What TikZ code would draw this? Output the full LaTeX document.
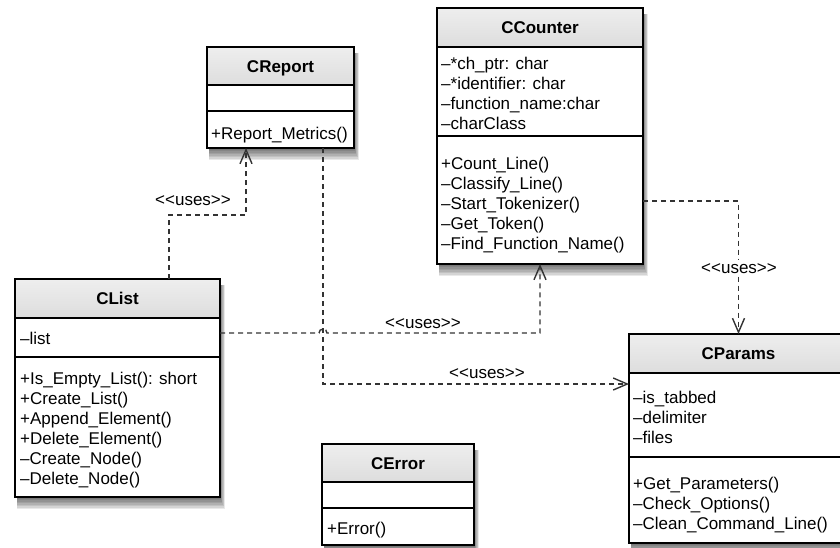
\documentclass[tikz,border=0pt]{standalone}
\usepackage{fontspec}
\setmainfont{Liberation Sans}
\usetikzlibrary{arrows.meta,calc}
\definecolor{linec}{HTML}{333333}
\definecolor{hdrtop}{HTML}{EEEEEE}
\definecolor{hdrbot}{HTML}{DDDDDD}
\tikzset{
  classbox/.style={draw=black, line width=1.3pt, fill=white, anchor=north west, inner sep=0pt, outer sep=0pt},
  header/.style={draw=black, line width=1.3pt, top color=hdrtop, bottom color=hdrbot, anchor=north west,
    inner sep=0pt, outer sep=0pt, font=\fontsize{17}{20}\selectfont\bfseries, text height=12.2pt, text depth=0pt},
  sep/.style={draw=black, line width=1.3pt},
  members/.style={anchor=north west, inner sep=0pt, align=left, font=\fontsize{17}{20}\selectfont},
  uses/.style={draw=linec, line width=1.4pt, dash pattern=on 5pt off 4pt, -{Straight Barb[length=14pt,width=12pt]}},
  lbl/.style={inner sep=1pt, font=\fontsize{17}{20}\selectfont, text height=12.2pt, text depth=0pt},
}
% #1 name, #2 xl, #3 yt, #4 xr, #5 yb, #6 header bottom, #7 title
\newcommand\umlclass[7]{%
  \foreach \d in {1,...,8}{\fill[black,opacity=0.085] (#2+2,#3+6) rectangle (#4+0.6*\d,#5+1.5*\d);}
  \node[classbox, minimum width={(#4-#2)*1pt}, minimum height={(#5-#3)*1pt}] (#1) at (#2,#3) {};
  \node[header, minimum width={(#4-#2)*1pt}, minimum height={(#6-#3)*1pt}] (#1-h) at (#2,#3) {#7};
}
\newcommand\usestext{<\kern0pt<uses>\kern0pt>}
\begin{document}
\begin{tikzpicture}[x=1pt,y=-1pt]
\clip (0,0) rectangle (840,547);
\fill[white] (0,0) rectangle (840,547);

% CReport
\umlclass{creport}{207}{47}{354}{148}{85}{CReport}
\draw[sep] (creport.west |- 0,111) -- (creport.east |- 0,111);
\node[members] (creport-m) at (211,125) {\strut+Report\_Metrics()};

% CCounter
\umlclass{ccounter}{437}{8}{643}{264}{47}{CCounter}
\draw[sep] (ccounter.west |- 0,136) -- (ccounter.east |- 0,136);
\node[members] (ccounter-a) at (441,55) {\strut\textendash*ch\_ptr: char\\\textendash*identifier: char\\\textendash function\_name:char\\\textendash charClass};
\node[members] (ccounter-m) at (441,155) {\strut+Count\_Line()\\\textendash Classify\_Line()\\\textendash Start\_Tokenizer()\\\textendash Get\_Token()\\\textendash Find\_Function\_Name()};

% CList
\umlclass{clist}{15}{279}{220}{497}{318}{CList}
\draw[sep] (clist.west |- 0,357) -- (clist.east |- 0,357);
\node[members] (clist-a) at (20,330) {\strut\textendash list};
\node[members] (clist-m) at (20,370) {\strut+Is\_Empty\_List(): short\\+Create\_List()\\+Append\_Element()\\+Delete\_Element()\\\textendash Create\_Node()\\\textendash Delete\_Node()};

% CParams
\umlclass{cparams}{629}{334}{848}{543}{373}{CParams}
\draw[sep] (cparams.west |- 0,457) -- (cparams.east |- 0,457);
\node[members] (cparams-a) at (633,389) {\strut\textendash is\_tabbed\\\textendash delimiter\\\textendash files};
\node[members] (cparams-m) at (633,475) {\strut+Get\_Parameters()\\\textendash Check\_Options()\\\textendash Clean\_Command\_Line()};

% CError
\umlclass{cerror}{322}{444}{474}{545}{482}{CError}
\draw[sep] (cerror.west |- 0,508) -- (cerror.east |- 0,508);
\node[members] (cerror-m) at (327,520) {\strut+Error()};

% connectors
\draw[uses] (169,0 |- clist.north) |- (246,215) -- (246,0 |- creport.south);
\draw[uses] (323,0 |- creport.south) |- (cparams.west |- 0,384);
\draw[uses] (clist.east |- 0,333) -- (319,333) arc[start angle=180,end angle=360,radius=4] -| (ccounter.south);
\draw[uses] (ccounter.east |- 0,201) -| (cparams.north);

% labels
\node[lbl] (l1) at (193,199) {\usestext};
\node[lbl] (l2) at (423,322) {\usestext};
\node[lbl] (l3) at (487,372) {\usestext};
\node[lbl, fill=white] (l4) at (739,267) {\usestext};
\end{tikzpicture}
\end{document}
